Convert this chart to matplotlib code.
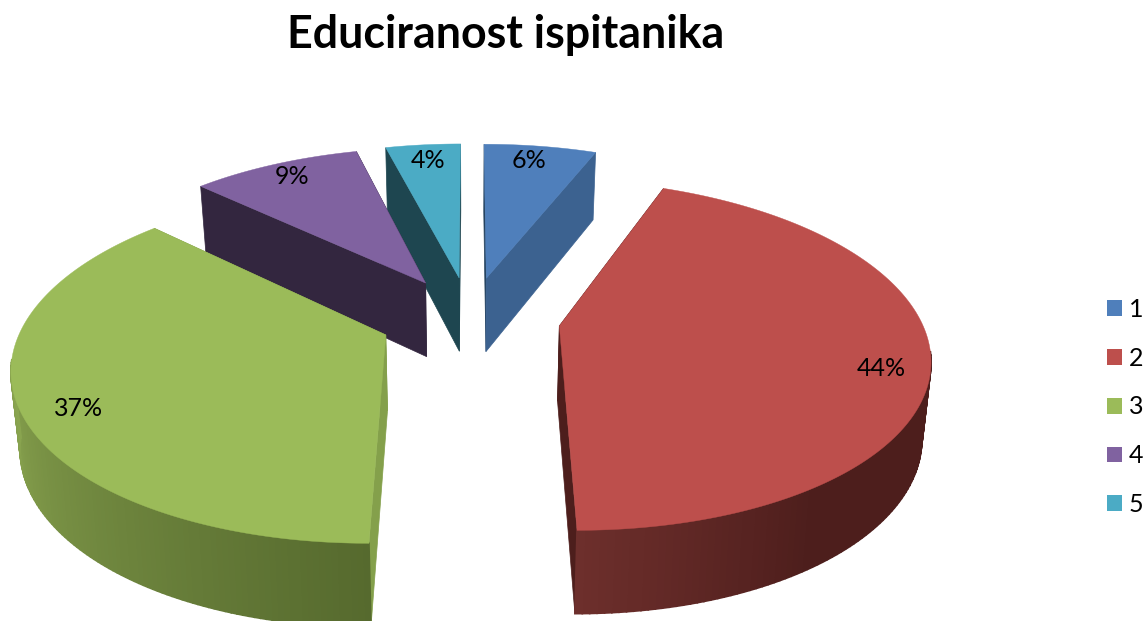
import numpy as np
import matplotlib
matplotlib.use('Agg')
import matplotlib.pyplot as plt
from matplotlib.colors import to_rgb
from matplotlib.patches import Patch

plt.rcParams['font.family'] = ['Lato', 'DejaVu Sans']

title = "Educiranost ispitanika"
categories = ['1', '2', '3', '4', '5']
values = [6, 44, 37, 9, 4]
top_colors = ['#4f7fbb', '#bd4f4c', '#9bbb59', '#8062a0', '#4babc5']
# walls: start edge, end edge of each slice
wall_start = ['#24425f', '#4d1e1c', '#84a04b', '#33263f', '#1e4650']
wall_end = ['#3c6290', '#4d1e1c', '#84a04b', '#33263f', '#1e4650']
# outer wall shading: colour at 180 deg, colour far from it, how many degrees it takes
rim_near = ['#3c6290', '#6e2f2c', '#566a2e', '#33263f', '#1e4650']
rim_far = ['#3c6290', '#4d1e1c', '#92ae55', '#33263f', '#1e4650']
rim_span = [30, 35, 95, 30, 30]
label_pos = [(529, 160), (881, 368), (79, 408), (292, 176), (428, 160)]

# projection of the pie plane
cx, cy = 470, 318
Rx, Ry = 361, 168
k = 0.164
k_depth = 0.0955
explode = 0.25
depth = 75
shrink = 0.98


def project(X, V, down=False):
    s = 1 / (1 + k * V)
    x = Rx * X * s
    y = Ry * V * s
    if down:
        return cx + x * shrink, cy - y + depth / (1 + k_depth * V)
    return cx + x, cy - y


fig = plt.figure(figsize=(11.45, 6.21), dpi=100)
ax = fig.add_axes([0, 0, 1, 1])
ax.set_xlim(0, 1145)
ax.set_ylim(621, 0)
ax.axis('off')

edges = np.cumsum([0] + values) / sum(values) * 360
order = [4, 0, 3, 2, 1]  # back to front

for n, i in enumerate(order):
    a0, a1 = edges[i], edges[i + 1]
    mid = np.radians((a0 + a1) / 2)
    ex, ev = explode * np.sin(mid), explode * np.cos(mid)
    t = np.radians(np.linspace(a0, a1, 160))
    X = ex + np.sin(t)
    V = ev + np.cos(t)
    px, py = project(X, V)
    qx, qy = project(X, V, down=True)
    ax0, ay0 = project(ex, ev)
    bx0, by0 = project(ex, ev, down=True)

    # flat walls on both cut edges
    ax.fill([ax0, px[0], qx[0], bx0], [ay0, py[0], qy[0], by0],
            color=wall_start[i], lw=0.5, zorder=n * 3)
    ax.fill([ax0, px[-1], qx[-1], bx0], [ay0, py[-1], qy[-1], by0],
            color=wall_end[i], lw=0.5, zorder=n * 3)

    # outer wall in thin strips, shaded by angle
    near, far = np.array(to_rgb(rim_near[i])), np.array(to_rgb(rim_far[i]))
    deg = np.degrees(t)
    for j in range(len(t) - 1):
        if np.cos(t[j]) > -0.15 and np.cos(t[j + 1]) > -0.15:
            continue
        f = min(abs(deg[j] - 180) / rim_span[i], 1)
        c = near + (far - near) * f
        ax.fill([px[j], px[j + 1], qx[j + 1], qx[j]], [py[j], py[j + 1], qy[j + 1], qy[j]],
                color=c, lw=1.2, zorder=n * 3 + 1)

    # top face
    ax.fill(np.r_[ax0, px], np.r_[ay0, py], color=top_colors[i], lw=0.3, zorder=n * 3 + 2)

for v, pos in zip(values, label_pos):
    ax.text(pos[0], pos[1], f"{v}%", fontsize=18, color='black', ha='center', va='center', zorder=50)

ax.text(506, 35, title, fontsize=32.2, fontweight='bold', color='black', ha='center', va='center', zorder=50)

handles = [Patch(facecolor=c, edgecolor='none', label=n) for c, n in zip(top_colors, categories)]
ax.legend(handles=handles, loc='center left', bbox_to_anchor=(1107 / 1145, 1 - 407 / 621),
          frameon=False, fontsize=18, handlelength=0.6, handleheight=0.6,
          labelspacing=1.03, handletextpad=0.28, borderpad=0, borderaxespad=0)

plt.savefig('out.png', dpi=100)
